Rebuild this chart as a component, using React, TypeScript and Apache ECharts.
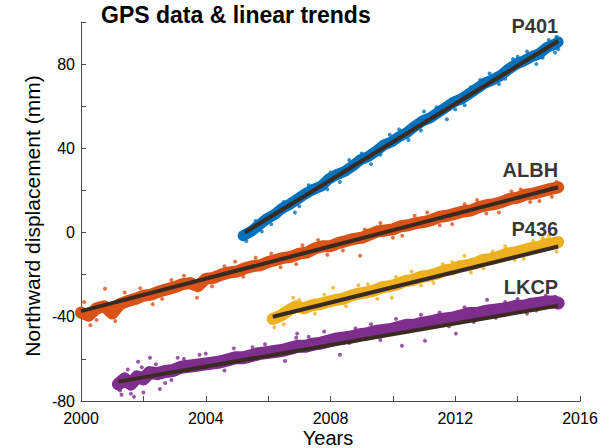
import React, { useEffect, useRef } from "react";
import * as echarts from "echarts";

// Station daily-position samples: [decimal year, northward displacement (mm)]
const p401Data: [number, number][] = [
  [2005.2, -1.5], [2005.45, 0.5], [2005.7, 3.5], [2005.95, 6.5], [2006.2, 8.5],
  [2006.45, 11.5], [2006.7, 13.5], [2006.95, 16.0], [2007.2, 18.5], [2007.45, 20.5],
  [2007.7, 22.0], [2007.95, 25.5], [2008.2, 27.5], [2008.45, 29.0], [2008.7, 31.5],
  [2008.95, 34.5], [2009.2, 36.0], [2009.45, 38.5], [2009.7, 41.5], [2009.95, 43.0],
  [2010.2, 45.5], [2010.45, 47.5], [2010.7, 50.5], [2010.95, 53.0], [2011.2, 54.5],
  [2011.45, 57.0], [2011.7, 59.5], [2011.95, 62.0], [2012.2, 63.5], [2012.45, 66.0],
  [2012.7, 68.5], [2012.95, 71.0], [2013.2, 72.5], [2013.45, 74.5], [2013.7, 77.5],
  [2013.95, 80.0], [2014.2, 81.5], [2014.45, 83.5], [2014.7, 85.0], [2014.95, 88.0],
  [2015.2, 89.5], [2015.3, 90.5],
];

const albhData: [number, number][] = [
  [2000.0, -38], [2000.25, -39.5], [2000.5, -36], [2000.75, -35], [2001.0, -38.5],
  [2001.25, -34], [2001.5, -32.5], [2001.75, -31.5], [2002.0, -30], [2002.25, -29.5],
  [2002.5, -28], [2002.75, -27], [2003.0, -26], [2003.25, -24.5], [2003.5, -24],
  [2003.75, -25.5], [2004.0, -22], [2004.25, -21.5], [2004.5, -20], [2004.75, -19],
  [2005.0, -18.5], [2005.25, -17], [2005.5, -16], [2005.75, -15.5], [2006.0, -14],
  [2006.25, -13], [2006.5, -12], [2006.75, -11.5], [2007.0, -10], [2007.25, -9.5],
  [2007.5, -7.5], [2007.75, -6.5], [2008.0, -6.5], [2008.25, -5], [2008.5, -4],
  [2008.75, -3], [2009.0, -2.5], [2009.25, -1], [2009.5, 0.5], [2009.75, 1],
  [2010.0, 1.5], [2010.25, 3], [2010.5, 3.5], [2010.75, 4.5], [2011.0, 5],
  [2011.25, 6], [2011.5, 7.5], [2011.75, 8], [2012.0, 9], [2012.25, 10],
  [2012.5, 10.5], [2012.75, 12], [2013.0, 13], [2013.25, 13.5], [2013.5, 14.5],
  [2013.75, 16], [2014.0, 16.5], [2014.25, 18], [2014.5, 18.5], [2014.75, 19.5],
  [2015.0, 20.5], [2015.3, 21.5],
];

const p436Data: [number, number][] = [
  [2006.15, -41], [2006.4, -39.5], [2006.65, -37], [2006.9, -35], [2007.15, -36],
  [2007.4, -34.5], [2007.65, -34], [2007.9, -33], [2008.15, -32], [2008.4, -31.5],
  [2008.65, -30], [2008.9, -29], [2009.15, -28.5], [2009.4, -27.5], [2009.65, -26],
  [2009.9, -25.5], [2010.15, -24.5], [2010.4, -23], [2010.65, -22.5], [2010.9, -21],
  [2011.15, -20.5], [2011.4, -19.5], [2011.65, -18], [2011.9, -17.5], [2012.15, -16],
  [2012.4, -15.5], [2012.65, -14.5], [2012.9, -13], [2013.15, -12.5], [2013.4, -11.5],
  [2013.65, -10], [2013.9, -9.5], [2014.15, -8.5], [2014.4, -7.5], [2014.65, -7],
  [2014.9, -5.5], [2015.15, -5], [2015.3, -4.5],
];

const lkcpData: [number, number][] = [
  [2001.2, -72], [2001.4, -69.5], [2001.6, -72], [2001.8, -68.5], [2002.0, -69.5],
  [2002.2, -66.5], [2002.45, -67], [2002.7, -66], [2002.95, -65.5], [2003.2, -64],
  [2003.45, -63.5], [2003.7, -63], [2003.95, -62.5], [2004.2, -62], [2004.45, -61.5],
  [2004.7, -60.5], [2004.95, -59.5], [2005.2, -59.5], [2005.45, -58.5], [2005.7, -57.5],
  [2005.95, -57], [2006.2, -56.5], [2006.45, -56], [2006.7, -55], [2006.95, -54],
  [2007.2, -54], [2007.45, -53], [2007.7, -52.5], [2007.95, -51.5], [2008.2, -50.5],
  [2008.45, -50], [2008.7, -49.5], [2008.95, -48.5], [2009.2, -48], [2009.45, -47],
  [2009.7, -46.5], [2009.95, -46], [2010.2, -45], [2010.45, -44], [2010.7, -44],
  [2010.95, -43], [2011.2, -42.5], [2011.45, -41.5], [2011.7, -41], [2011.95, -40.5],
  [2012.2, -39.5], [2012.45, -38.5], [2012.7, -38.5], [2012.95, -37.5], [2013.2, -37],
  [2013.45, -36.5], [2013.7, -36], [2013.95, -35], [2014.2, -35], [2014.45, -34],
  [2014.7, -33.5], [2014.95, -33], [2015.2, -33], [2015.3, -33.5],
];

// Scattered samples along the ragged edges of each cloud
const p401Outliers: [number, number][] = [
  [2006.86, 9.5], [2011.73, 53.8], [2013.85, 82.4], [2009.3, 32.5], [2005.3, -4],
  [2005.6, 5.5], [2006.1, 4.0], [2007.3, 22.5], [2007.9, 20.5], [2008.6, 34.5],
  [2009.9, 46.5], [2010.5, 44.0], [2011.0, 57.5], [2012.3, 60.5], [2012.8, 72.5],
  [2013.4, 70.5], [2014.3, 86.0], [2014.8, 83.0], [2015.25, 93.0], [2015.2, 85.5],
  [2005.8, 0.5], [2006.5, 14.5], [2007.0, 12.5], [2008.0, 28.5], [2008.3, 24.0],
  [2009.0, 37.5], [2009.6, 37.0], [2010.2, 49.0], [2010.9, 48.5], [2011.4, 59.5],
  [2012.0, 58.5], [2012.5, 69.0], [2013.1, 75.5], [2013.6, 73.0], [2014.0, 83.5],
  [2014.6, 80.0], [2015.0, 91.5], [2015.3, 87.0],
];
const albhOutliers: [number, number][] = [
  [2000.77, -26.7], [2003.72, -31], [2004.94, -13.8], [2008.95, -11], [2000.3, -44],
  [2000.1, -33], [2001.4, -28.5], [2002.3, -34], [2002.9, -22.5], [2004.2, -25.5],
  [2005.6, -12], [2006.4, -16.5], [2007.1, -6], [2007.9, -10.5], [2009.6, 4.5],
  [2010.3, -1.5], [2011.1, 9.5], [2011.9, 4], [2012.7, 15.5], [2013.4, 9.5],
  [2014.1, 20.5], [2014.7, 15], [2015.25, 24], [2000.5, -41.5], [2001.1, -42],
  [2001.9, -26.5], [2002.6, -31.5], [2003.3, -20.5], [2004.6, -16], [2005.2, -21],
  [2006.1, -10], [2006.9, -15], [2007.6, -3.5], [2008.4, -8.5], [2009.1, 1.5],
  [2010.0, -2.5], [2010.7, 8], [2011.5, 3.5], [2012.3, 13.5], [2013.0, 9],
  [2013.8, 19.5], [2014.4, 14.5], [2015.1, 17],
];
const p436Outliers: [number, number][] = [
  [2008.08, -26.2], [2009.97, -31], [2006.2, -45], [2012.3, -11],
  [2006.8, -31], [2007.5, -38.5], [2008.9, -25], [2009.5, -31.5], [2010.6, -18.5],
  [2011.3, -24], [2011.9, -14], [2012.9, -17], [2013.6, -6.5], [2014.2, -12.5],
  [2014.8, -2.5], [2015.25, -9], [2006.5, -43.5], [2007.0, -32], [2007.8, -29.5],
  [2008.5, -35], [2009.2, -24.5], [2010.1, -21], [2010.9, -25], [2011.6, -15],
  [2012.5, -19], [2013.2, -9], [2013.9, -13], [2014.5, -4], [2015.0, -1.5],
];
const lkcpOutliers: [number, number][] = [
  [2001.3, -77], [2001.7, -78], [2002.0, -76], [2001.83, -61.4], [2002.21, -59.5],
  [2002.53, -74.3], [2003.8, -58], [2006.54, -61], [2006.93, -48], [2008.3, -58],
  [2010.29, -53.8], [2011.03, -51.4], [2012.02, -48], [2013.02, -31.9],
  [2001.5, -65], [2002.9, -70], [2003.3, -60], [2004.6, -65.5], [2005.5, -54.5],
  [2007.3, -49.5], [2008.8, -45.5], [2009.6, -51], [2011.5, -38], [2012.6, -42.5],
  [2013.6, -33], [2014.3, -38.5], [2014.9, -30], [2001.25, -75], [2001.6, -76.5],
  [2001.95, -64], [2002.4, -62.5], [2002.7, -71.5], [2003.1, -59.5], [2004.0, -57.5],
  [2004.9, -55], [2005.9, -53], [2006.9, -50], [2007.8, -47], [2008.6, -52.5],
  [2009.3, -43.5], [2010.1, -41], [2010.9, -39], [2011.8, -44.5], [2012.3, -35.5],
  [2013.3, -40.5], [2014.0, -31.5], [2014.6, -37], [2015.2, -30.5],
];

// Least-squares trend end points: [start, end]
const p401Trend: [number, number][] = [[2005.25, 0], [2015.3, 91]];
const albhTrend: [number, number][] = [[2000.0, -37.3], [2015.3, 21.5]];
const p436Trend: [number, number][] = [[2006.15, -40], [2015.3, -6.6]];
const lkcpTrend: [number, number][] = [[2001.2, -70.8], [2015.3, -34.7]];

const stationNames = ["P401", "ALBH", "P436", "LKCP"];
const stationColors = ["#0072BD", "#D95319", "#EDB120", "#7E2F8E"];
const yLabelValues = [-80, -40, 0, 40, 80];
const xLabelStep = 4;

const FONT = "'Liberation Sans', Arial, Helvetica, sans-serif";
const TREND_COLOR = "#3a2a1f";

export default function App() {
  const ref = useRef<HTMLDivElement>(null);

  useEffect(() => {
    if (!ref.current) return;
    const chart = echarts.init(ref.current, null, { renderer: "svg" });

    const bands = [p401Data, albhData, p436Data, lkcpData];
    const outliers = [p401Outliers, albhOutliers, p436Outliers, lkcpOutliers];
    const trends = [p401Trend, albhTrend, p436Trend, lkcpTrend];
    const bandWidth = [11, 12, 12, 13];
    const labelLift = [15, 17, 17, 19];

    const series: any[] = [];
    bands.forEach((d, i) => {
      series.push({
        type: "line",
        data: d,
        showSymbol: true,
        symbol: "circle",
        symbolSize: bandWidth[i] - 2,
        itemStyle: { color: stationColors[i] },
        lineStyle: { color: stationColors[i], width: bandWidth[i], cap: "round", join: "round" },
        z: 2,
      });
      series.push({
        type: "scatter",
        data: outliers[i],
        symbolSize: 4,
        itemStyle: { color: stationColors[i] },
        z: 2,
      });
    });
    trends.forEach((t, i) => {
      series.push({
        type: "line",
        data: t,
        showSymbol: false,
        lineStyle: { color: TREND_COLOR, width: 4 },
        z: 5,
      });
      series.push({
        type: "scatter",
        data: [t[t.length - 1]],
        symbolSize: 0,
        z: 6,
        label: {
          show: true,
          formatter: stationNames[i],
          position: [0, -labelLift[i]],
          align: "right",
          verticalAlign: "middle",
          fontFamily: FONT,
          fontWeight: "bold",
          fontSize: 20,
          color: "#000",
        },
      });
    });

    const axisLine = { show: true, onZero: false, lineStyle: { color: "#4a4a4a", width: 1 } };
    const axisTick = { show: true, inside: true, length: 5, lineStyle: { color: "#4a4a4a" } };

    chart.setOption({
      animation: false,
      backgroundColor: "#fff",
      grid: { left: 81, right: 33, top: 22, bottom: 47, containLabel: false },
      xAxis: {
        type: "value",
        min: 2000,
        max: 2016,
        interval: 2,
        axisLine,
        axisTick,
        splitLine: { show: false },
        axisLabel: {
          formatter: (v: number) => (v % xLabelStep === 0 ? String(v) : ""),
          color: "#000",
          fontFamily: FONT,
          fontSize: 16,
          margin: 9,
          showMaxLabel: true,
        },
      },
      yAxis: {
        type: "value",
        min: -80,
        max: 100,
        interval: 20,
        axisLine,
        axisTick,
        splitLine: { show: false },
        axisLabel: {
          formatter: (v: number) => (yLabelValues.includes(v) ? String(v) : ""),
          color: "#000",
          fontFamily: FONT,
          fontSize: 16,
          margin: 6,
        },
      },
      graphic: [
        {
          type: "text",
          left: 101,
          top: 3,
          style: {
            text: "GPS data & linear trends",
            font: `bold 23px ${FONT}`,
            fill: "#000",
          },
        },
        {
          type: "text",
          x: 32,
          y: 216,
          rotation: Math.PI / 2,
          style: {
            text: "Northward displacement (mm)",
            font: `21px ${FONT}`,
            fill: "#000",
            align: "center",
            verticalAlign: "middle",
          },
        },
        {
          type: "text",
          x: 328,
          y: 438,
          style: {
            text: "Years",
            font: `20px ${FONT}`,
            fill: "#000",
            align: "center",
            verticalAlign: "middle",
          },
        },
      ],
      series,
    });

    return () => chart.dispose();
  }, []);

  return (
    <div
      ref={ref}
      style={{ position: "absolute", left: 0, top: 0, width: 613, height: 448 }}
    />
  );
}
